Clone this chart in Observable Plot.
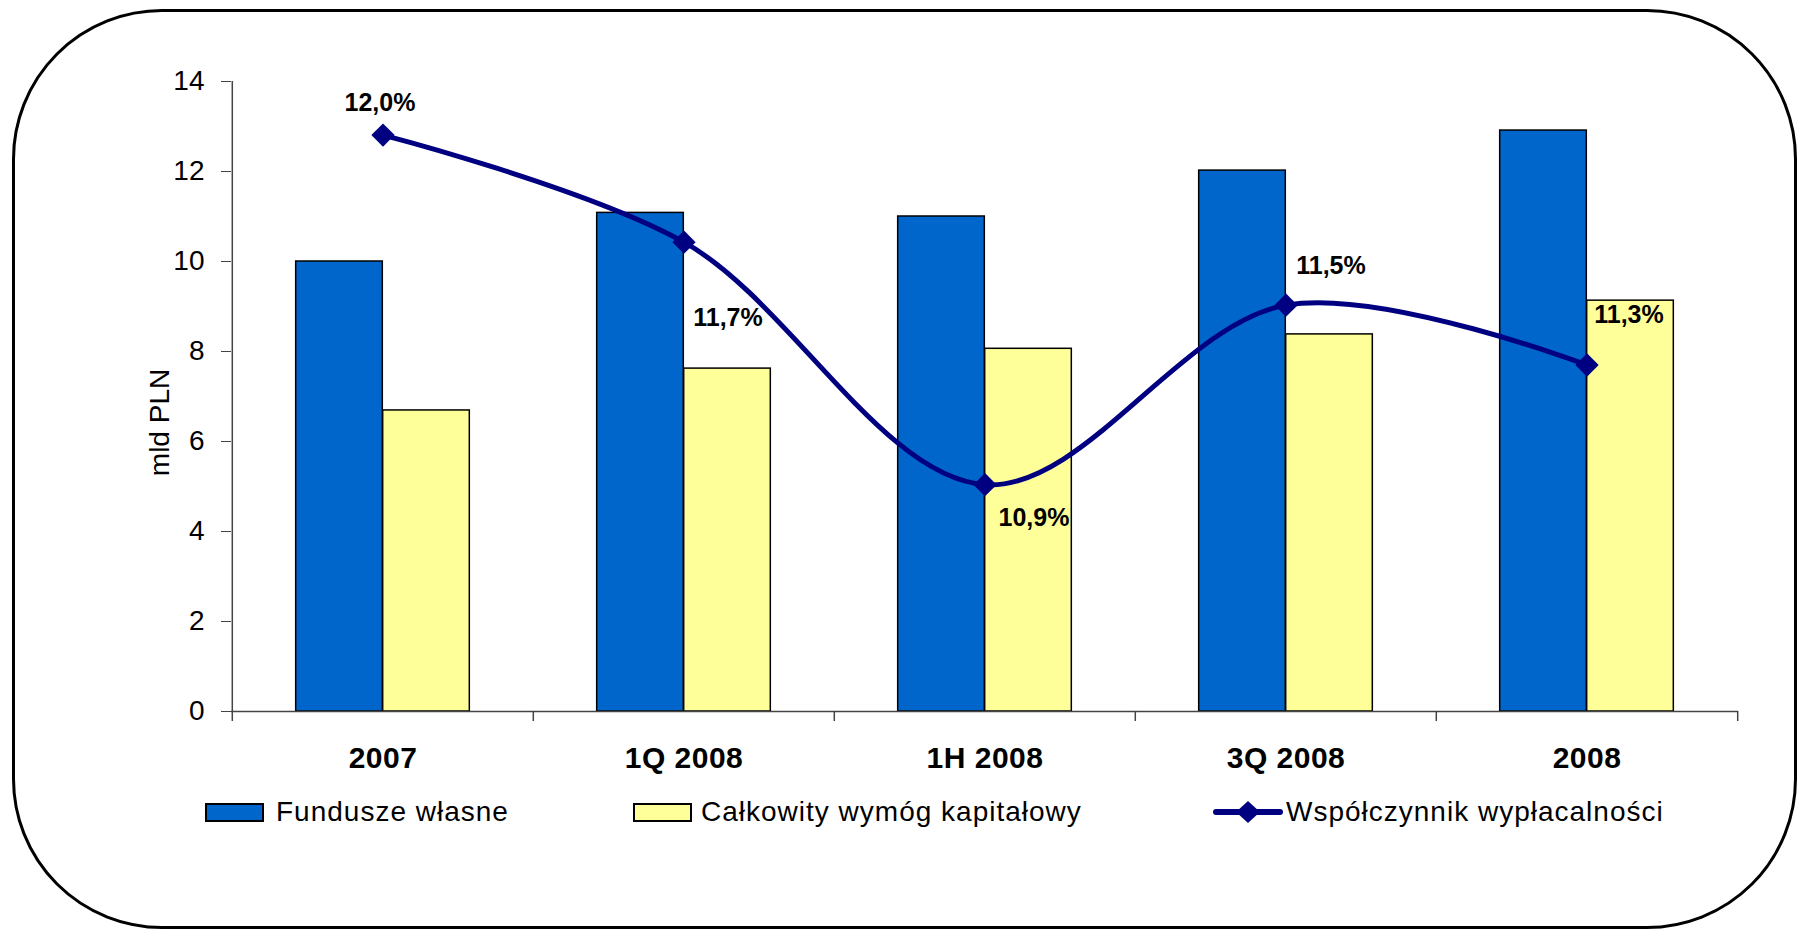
<!DOCTYPE html>
<html>
<head>
<meta charset="utf-8">
<script src="https://cdn.jsdelivr.net/npm/d3@7"></script>
<script src="https://cdn.jsdelivr.net/npm/@observablehq/plot@0.6"></script>
<style>
  html, body { margin: 0; padding: 0; background: #fff; }
  #wrap { position: relative; width: 1798px; height: 929px; overflow: hidden;
          font-family: "Liberation Sans", Arial, sans-serif; color: #000; }
  #frame { position: absolute; left: 12px; top: 9px; right: 1px; bottom: 0;
           border: 3px solid #000; border-radius: 150px; box-sizing: border-box; }
  #chart { position: absolute; left: 0; top: 0; }
  .sw { position: absolute; box-sizing: border-box; border: 2px solid #000; }
  .lt { position: absolute; font-size: 28px; letter-spacing: 1px; line-height: 30px; white-space: nowrap; }
  g[aria-label="x-axis tick label"] { letter-spacing: 0.5px; }
  g[aria-label="value-label"] { letter-spacing: 1px; }
  g[aria-label="y-title"] { letter-spacing: 1.5px; }
</style>
</head>
<body>
<div id="wrap">
  <div id="frame"></div>
  <div id="chart"></div>
  <div id="legend"></div>
</div>
<script>
// ---- data ----
const categories = ["2007", "1Q 2008", "1H 2008", "3Q 2008", "2008"];
const funduszeWlasne = [10.0, 11.08, 11.0, 12.02, 12.91];          // mld PLN
const wymogKapitalowy = [6.69, 7.62, 8.06, 8.38, 9.13];            // mld PLN
const wspolczynnik = [12.03, 11.69, 10.92, 11.49, 11.30];           // %
const yTicks = [0, 2, 4, 6, 8, 10, 12, 14];
const ratioAxisDomain = [10.2, 12.2];   // hidden secondary axis (%)
const seriesNames = ["Fundusze własne", "Całkowity wymóg kapitałowy", "Współczynnik wypłacalności"];
const yLabel = "mld PLN";

// ---- styles / layout ----
const colors = { fw: "#0066CC", cw: "#FFFF99", ratio: "#000080" };
const W = 1798, H = 790;
const mL = 231, mR = 60, mT = 81, mB = 79;
const bw = (W - mL - mR) / categories.length;
const outer = bw * 0.2113, barW = bw * 0.2887;
const labelOffsets = [[-3, -32], [44, 76], [49, 33], [45, -39], [42, -50]];

const rows = categories.map((c, i) => ({
  cat: c, fw: funduszeWlasne[i], cw: wymogKapitalowy[i], ratio: wspolczynnik[i], i
}));
const ratioToY = d3.scaleLinear(ratioAxisDomain, [0, 14]);
const fmt = v => v.toFixed(1).replace(".", ",") + "%";

const chart = Plot.plot({
  width: W, height: H,
  marginLeft: mL, marginRight: mR, marginTop: mT, marginBottom: mB,
  style: { fontFamily: '"Liberation Sans", Arial, sans-serif', background: "transparent", color: "#000" },
  x: { type: "band", domain: categories, padding: 0, label: null },
  y: { domain: [0, 14], label: null },
  marks: [
    Plot.barY(rows, { x: "cat", y: "fw", fill: colors.fw, stroke: "#000", strokeWidth: 1.5,
                      insetLeft: outer, insetRight: outer + barW }),
    Plot.barY(rows, { x: "cat", y: "cw", fill: colors.cw, stroke: "#000", strokeWidth: 1.5,
                      insetLeft: outer + barW, insetRight: outer }),
    Plot.ruleY([0], { stroke: "#444", strokeWidth: 1.5 }),
    Plot.ruleX([categories[0]], { x: d => d, y1: 0, y2: 14, dx: -bw / 2, stroke: "#444", strokeWidth: 1.5 }),
    Plot.ruleX(categories, { x: d => d, y1: 0, y2: 0, insetBottom: -10, dx: -bw / 2, stroke: "#444", strokeWidth: 1.5 }),
    Plot.ruleX([categories[categories.length - 1]], { x: d => d, y1: 0, y2: 0, insetBottom: -10, dx: bw / 2, stroke: "#444", strokeWidth: 1.5 }),
    Plot.axisY({ ticks: yTicks, tickSize: 10, tickPadding: 17, fontSize: 28, stroke: "#444", tickFormat: d => String(d), label: null }),
    Plot.axisX({ tickSize: 0, tickPadding: 35, fontSize: 30, fontWeight: "bold", label: null }),
    Plot.text([yLabel], { frameAnchor: "left", text: d => d, rotate: -90, dx: -71, dy: 26,
                          textAnchor: "middle", fontSize: 28, ariaLabel: "y-title" }),
    Plot.line(rows, { x: "cat", y: d => ratioToY(d.ratio), curve: "catmull-rom",
                      stroke: colors.ratio, strokeWidth: 5 }),
    Plot.dot(rows, { x: "cat", y: d => ratioToY(d.ratio), symbol: "diamond2", r: 10.5,
                     fill: colors.ratio, stroke: "none" }),
    ...rows.map((r, k) => Plot.text([r], { x: "cat", y: d => ratioToY(d.ratio), text: d => fmt(d.ratio),
        dx: labelOffsets[k][0], dy: labelOffsets[k][1], fontSize: 25, fontWeight: "bold",
        ariaLabel: "value-label" }))
  ]
});
document.getElementById("chart").appendChild(chart);

// ---- legend (HTML, below the SVG) ----
const legend = document.getElementById("legend");
legend.innerHTML = `
  <div class="sw" style="left:205px;top:803px;width:59px;height:19px;background:${colors.fw}"></div>
  <div class="lt" style="left:276px;top:797px">${seriesNames[0]}</div>
  <div class="sw" style="left:633px;top:803px;width:59px;height:19px;background:${colors.cw}"></div>
  <div class="lt" style="left:701px;top:797px">${seriesNames[1]}</div>
  <svg style="position:absolute;left:1212px;top:799px" width="72" height="26">
    <line x1="4" y1="13" x2="68" y2="13" stroke="${colors.ratio}" stroke-width="6" stroke-linecap="round"/>
    <path d="M36,2 L48,13 L36,24 L24,13 Z" fill="${colors.ratio}"/>
  </svg>
  <div class="lt" style="left:1286px;top:797px">${seriesNames[2]}</div>
`;
</script>
</body>
</html>
